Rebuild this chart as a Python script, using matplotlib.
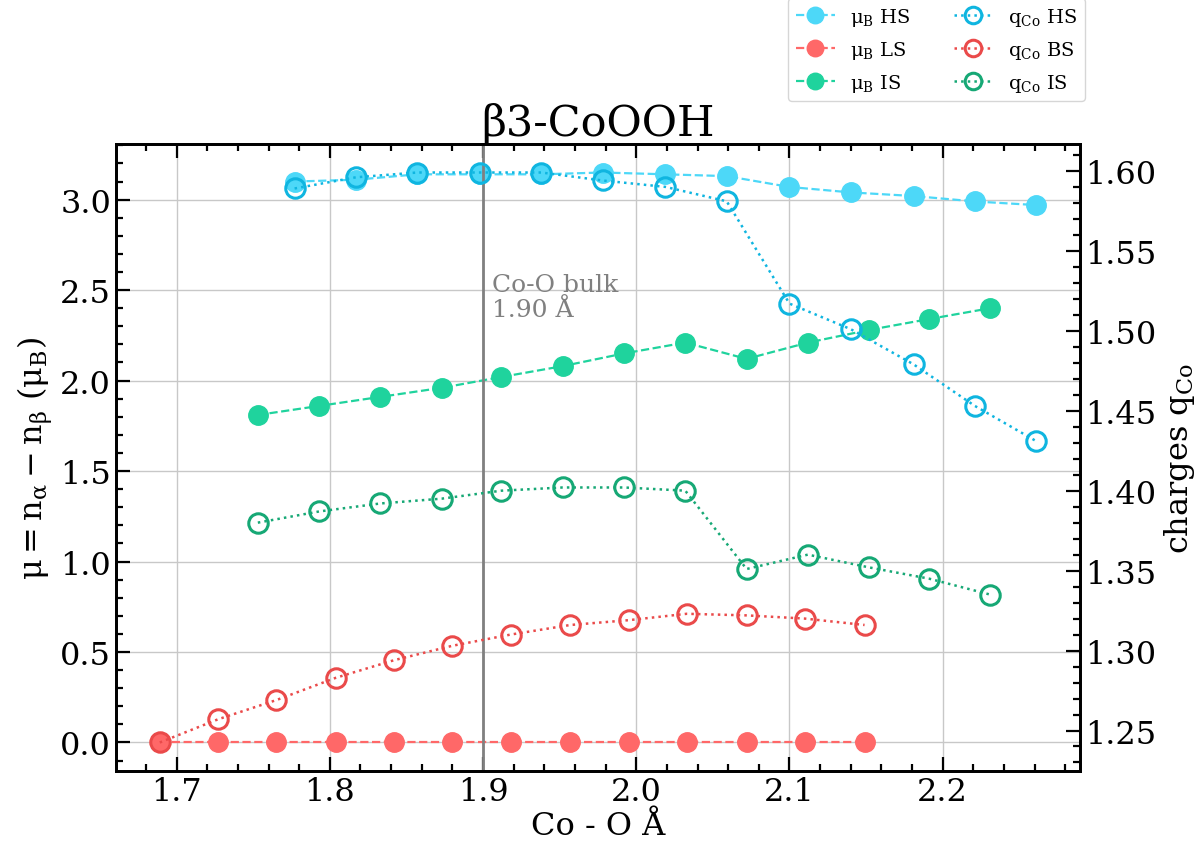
import matplotlib
matplotlib.use("Agg")
import matplotlib.pyplot as plt
from matplotlib.ticker import MultipleLocator

plt.rcParams['font.family'] = ['DejaVu Serif']
plt.rcParams['mathtext.fontset'] = 'dejavuserif'
plt.rcParams['mathtext.default'] = 'regular'

# Co-O distances (Angstrom) per spin state
x_hs = [1.777, 1.817, 1.857, 1.898, 1.938, 1.978, 2.019, 2.059, 2.100, 2.140, 2.181, 2.221, 2.261]
x_ls = [1.689, 1.727, 1.765, 1.804, 1.842, 1.880, 1.918, 1.957, 1.995, 2.033, 2.072, 2.110, 2.149]
x_is = [1.753, 1.793, 1.833, 1.873, 1.912, 1.952, 1.992, 2.032, 2.072, 2.112, 2.152, 2.191, 2.231]

# magnetic moments
mu_hs = [3.10, 3.11, 3.14, 3.14, 3.14, 3.15, 3.14, 3.13, 3.07, 3.04, 3.02, 2.99, 2.97]
mu_ls = [0.0, 0.0, 0.0, 0.0, 0.0, 0.0, 0.0, 0.0, 0.0, 0.0, 0.0, 0.0, 0.0]
mu_is = [1.81, 1.86, 1.91, 1.96, 2.02, 2.08, 2.15, 2.21, 2.12, 2.21, 2.28, 2.34, 2.40]

# Co charges
q_hs = [1.589, 1.596, 1.599, 1.599, 1.599, 1.594, 1.590, 1.581, 1.517, 1.501, 1.479, 1.453, 1.431]
q_ls = [1.2425, 1.257, 1.269, 1.283, 1.294, 1.303, 1.310, 1.316, 1.319, 1.323, 1.322, 1.320, 1.316]
q_is = [1.380, 1.387, 1.392, 1.395, 1.400, 1.402, 1.402, 1.400, 1.351, 1.360, 1.352, 1.345, 1.335]

bulk = 1.90

fig = plt.figure(figsize=(12.04, 8.45), dpi=100)
ax = fig.add_axes([0.0963, 0.0864, 0.8007, 0.742])
ax2 = ax.twinx()

ms = 14
l1, = ax.plot(x_hs, mu_hs, "o--", color="#4dd8f8", ms=ms, lw=1.6, label=r"$\mu_B$ HS")
l2, = ax.plot(x_ls, mu_ls, "o--", color="#ff6868", ms=ms, lw=1.6, label=r"$\mu_B$ LS")
l3, = ax.plot(x_is, mu_is, "o--", color="#1fd39d", ms=ms, lw=1.6, label=r"$\mu_B$ IS")

l4, = ax2.plot(x_hs, q_hs, "o:", color="#0fb5e0", ms=ms, lw=1.8, mfc="none", mew=2.2, label=r"$q_{Co}$ HS")
l5, = ax2.plot(x_ls, q_ls, "o:", color="#ea4a4a", ms=ms, lw=1.8, mfc="none", mew=2.2, label=r"$q_{Co}$ BS")
l6, = ax2.plot(x_is, q_is, "o:", color="#16a875", ms=ms, lw=1.8, mfc="none", mew=2.2, label=r"$q_{Co}$ IS")

ax.axvline(bulk, color="gray", lw=2)
ax.text(bulk + 0.006, 2.33, "Co-O bulk\n%.2f Å" % bulk, color="gray", fontsize=18, va="bottom",
        linespacing=1.1)

ax.grid(True, color="#c8c8c8", lw=1)
ax.set_axisbelow(True)

ax.xaxis.set_minor_locator(MultipleLocator(0.02))
ax.yaxis.set_major_locator(MultipleLocator(0.5))
ax.yaxis.set_minor_locator(MultipleLocator(0.1))
ax2.yaxis.set_major_locator(MultipleLocator(0.05))
ax2.yaxis.set_minor_locator(MultipleLocator(0.01))

ax.tick_params(which="both", direction="in", top=True, right=False, width=1.6, labelsize=23)
ax.tick_params(which="major", length=10)
ax.tick_params(which="minor", length=5)
ax2.tick_params(which="both", direction="in", width=1.6, labelsize=23)
ax2.tick_params(which="major", length=10)
ax2.tick_params(which="minor", length=5)
ax2.yaxis.set_major_formatter(matplotlib.ticker.FormatStrFormatter("%.2f"))

for a in (ax, ax2):
    for s in a.spines.values():
        s.set_linewidth(2)

ax.set_xlabel("Co - O Å", fontsize=23, labelpad=2)
ax.set_ylabel(r"$\mu = n_\alpha - n_\beta\ (\mu_B)$", fontsize=23)
ax2.set_ylabel(r"charges $q_{Co}$", fontsize=23)
ax.set_title("β3-CoOOH", fontsize=31, pad=6)

ax.legend(handles=[l1, l2, l3, l4, l5, l6], ncol=2, fontsize=14,
          loc="lower right", bbox_to_anchor=(1.005, 1.068), borderaxespad=0,
          markerscale=0.85, columnspacing=2.2, labelspacing=0.55)

fig.savefig("out.png", dpi=100)
